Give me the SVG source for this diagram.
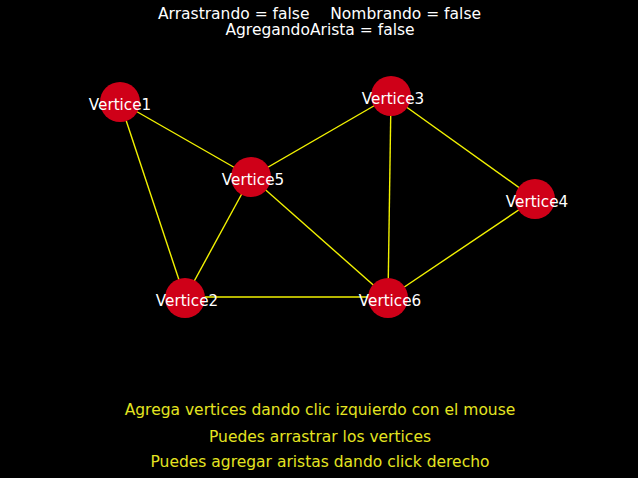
<svg xmlns="http://www.w3.org/2000/svg" width="638" height="478" viewBox="0 0 638 478">
<style>
.edge{stroke:#f2f200;stroke-width:1.4;fill:none}
.node circle{fill:#cf0018}
.node text{fill:#ffffff;font-family:"DejaVu Sans",sans-serif;font-size:15.2px;text-anchor:middle}
.hdr{fill:#ffffff;font-family:"DejaVu Sans",sans-serif;font-size:15.5px}
.ftr{fill:#e4e420;font-family:"DejaVu Sans",sans-serif;font-size:15.5px;text-anchor:middle}
</style>
<rect width="638" height="478" fill="#000000"/>
<g id="header">
<text class="hdr" x="158" y="19">Arrastrando = false</text>
<text class="hdr" x="481" y="19" text-anchor="end">Nombrando = false</text>
<text class="hdr" x="320" y="34.5" text-anchor="middle">AgregandoArista = false</text>
</g>
<g id="connectors">
<line class="edge" x1="120" y1="102" x2="251" y2="177"/>
<line class="edge" x1="120" y1="102" x2="185" y2="298"/>
<line class="edge" x1="251" y1="177" x2="185" y2="298"/>
<line class="edge" x1="251" y1="177" x2="391" y2="96"/>
<line class="edge" x1="251" y1="177" x2="388" y2="298"/>
<line class="edge" x1="391" y1="96" x2="388" y2="298"/>
<line class="edge" x1="391" y1="96" x2="535" y2="199"/>
<line class="edge" x1="535" y1="199" x2="388" y2="298"/>
<line class="edge" x1="185" y1="297" x2="388" y2="297"/>
</g>
<g id="vertice1" class="node"><circle cx="120" cy="102" r="20"/><text x="120" y="110">Vertice1</text></g>
<g id="vertice2" class="node"><circle cx="185" cy="298" r="20"/><text x="187" y="306">Vertice2</text></g>
<g id="vertice3" class="node"><circle cx="391" cy="96" r="20"/><text x="393" y="104">Vertice3</text></g>
<g id="vertice4" class="node"><circle cx="535" cy="199" r="20"/><text x="537" y="207">Vertice4</text></g>
<g id="vertice5" class="node"><circle cx="251" cy="177" r="20"/><text x="253" y="185">Vertice5</text></g>
<g id="vertice6" class="node"><circle cx="388" cy="298" r="20"/><text x="390" y="306">Vertice6</text></g>
<g id="footer">
<text class="ftr" x="320" y="415">Agrega vertices dando clic izquierdo con el mouse</text>
<text class="ftr" x="320" y="441.5">Puedes arrastrar los vertices</text>
<text class="ftr" x="320" y="466.5">Puedes agregar aristas dando click derecho</text>
</g>
</svg>
